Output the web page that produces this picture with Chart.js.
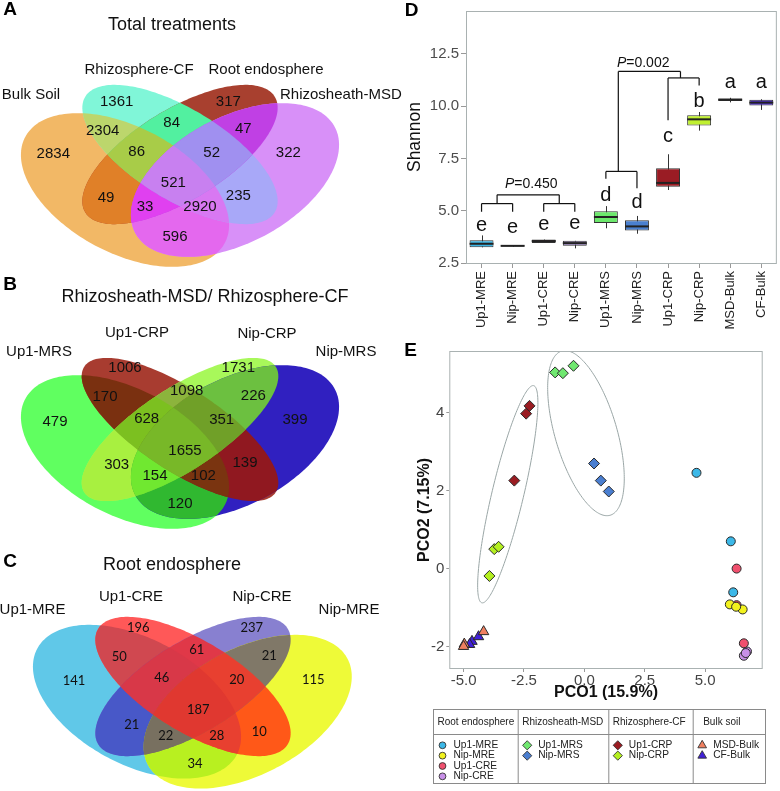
<!DOCTYPE html>
<html><head><meta charset="utf-8">
<script src="https://cdn.jsdelivr.net/npm/chart.js@4.4.1/dist/chart.umd.min.js"></script>
<style>
html,body{margin:0;padding:0;background:#fff;}
#wrap{position:relative;width:780px;height:791px;overflow:hidden;background:#fff;}
canvas{position:absolute;}
</style></head><body><div id="wrap">
<canvas id="cA" width="420" height="270" style="left:0;top:0"></canvas>
<canvas id="cB" width="420" height="273" style="left:0;top:262px"></canvas>
<canvas id="cC" width="420" height="269" style="left:0;top:522px"></canvas>
<canvas id="cD" width="390" height="340" style="left:390px;top:0"></canvas>
<canvas id="cE" width="390" height="451" style="left:390px;top:340px"></canvas>
</div>
<script>
// ---------------- DATA ----------------
// Venn region keys (set membership), shared by the three diagrams
const vennRegions = ['1','2','3','4','12','13','14','23','24','34','123','124','134','234','1234'];
const setsA = ['Bulk Soil','Rhizosphere-CF','Root endosphere','Rhizosheath-MSD'];
const countsA = [2834,1361,317,322,2304,49,596,84,235,47,86,2920,33,52,521];
const setsB = ['Up1-MRS','Up1-CRP','Nip-CRP','Nip-MRS'];
const countsB = [479,1006,1731,399,170,303,120,1098,139,226,628,102,154,351,1655];
const setsC = ['Up1-MRE','Up1-CRE','Nip-CRE','Nip-MRE'];
const countsC = [141,196,237,115,50,21,34,61,10,21,46,28,22,20,187];

// Shannon box plot
const groups = ['Up1-MRE','Nip-MRE','Up1-CRE','Nip-CRE','Up1-MRS','Nip-MRS','Up1-CRP','Nip-CRP','MSD-Bulk','CF-Bulk'];
const shMin = [3.25,3.28,3.46,3.20,4.16,3.90,5.99,8.83,10.18,9.82];
const shQ1  = [3.25,3.29,3.46,3.32,4.41,4.05,6.15,9.08,10.25,10.03];
const shMed = [3.42,3.32,3.55,3.45,4.70,4.25,6.33,9.37,10.31,10.17];
const shQ3  = [3.59,3.35,3.62,3.56,4.98,4.55,7.03,9.56,10.37,10.31];
const shMax = [3.82,3.36,3.62,3.56,5.22,4.75,7.70,9.72,10.40,10.33];
const shLetters = ['e','e','e','e','d','d','c','b','a','a'];
const shLetterY = [4.05,3.93,4.08,4.11,5.48,5.11,8.27,9.98,10.85,10.85];
const shYTicks = [2.5,5,7.5,10,12.5];

// PCoA
const pcoGroups = ['Up1-MRE','Nip-MRE','Up1-CRE','Nip-CRE','Up1-MRS','Nip-MRS','Up1-CRP','Nip-CRP','MSD-Bulk','CF-Bulk'];
const pco1 = [
  [4.64,6.06,6.16],
  [6.02,6.55,6.28],
  [6.30,6.30,6.60],
  [6.73,6.60,6.68],
  [-1.21,-0.89,-0.45],
  [0.40,0.68,1.01],
  [-2.27,-2.41,-2.90],
  [-3.73,-3.55,-3.93],
  [-4.17,-4.97,-5.00],
  [-4.65,-4.38,-4.75]
];
const pco2 = [
  [2.46,0.70,-0.61],
  [-0.92,-1.05,-0.98],
  [0.00,-0.94,-1.92],
  [-2.13,-2.24,-2.17],
  [5.04,5.02,5.21],
  [2.70,2.26,1.98],
  [4.18,3.98,2.26],
  [0.50,0.56,-0.19],
  [-1.62,-1.94,-2.00],
  [-1.87,-1.75,-1.95]
];
const pcoXTicks = [-5,-2.5,0,2.5,5];
const pcoYTicks = [-2,0,2,4];

// ---------------- STYLE ----------------
const FONT = "'Liberation Sans', Arial, Helvetica, sans-serif";
Chart.defaults.font.family = FONT;
Chart.defaults.color = '#222';

function ellipsePath(e, xs, ys) {
  const p = new Path2D();
  const phi = e.angle * Math.PI / 180;
  const ky = e.ky || 1;
  for (let i = 0; i <= 200; i++) {
    const t = i / 200 * 2 * Math.PI;
    const lx = e.a * Math.cos(t), ly = e.b * Math.sin(t);
    const dx = lx * Math.cos(phi) - ly * Math.sin(phi);
    const dy = (lx * Math.sin(phi) + ly * Math.cos(phi)) * ky;
    const px = xs.getPixelForValue(e.cx + dx), py = ys.getPixelForValue(e.cy + dy);
    if (i) p.lineTo(px, py); else p.moveTo(px, py);
  }
  p.closePath();
  return p;
}

function makeVenn(canvasId, cfg) {
  const plugin = {
    id: 'venn' + cfg.key,
    afterDraw(chart) {
      const {ctx, scales: {x, y}} = chart;
      const paths = cfg.ellipses.map(e => ellipsePath(e, x, y));
      const order = vennRegions.map((r, i) => i).sort((a, b) => vennRegions[a].length - vennRegions[b].length);
      order.forEach(i => {
        ctx.save();
        for (const ch of vennRegions[i]) ctx.clip(paths[+ch - 1]);
        ctx.fillStyle = cfg.colors[i];
        ctx.fillRect(0, 0, chart.width, chart.height);
        ctx.restore();
      });
      ctx.save();
      ctx.fillStyle = '#111';
      ctx.textAlign = 'center';
      ctx.textBaseline = 'middle';
      ctx.font = cfg.numFont;
      cfg.counts.forEach((c, i) => {
        ctx.fillText(String(c), x.getPixelForValue(cfg.numPos[i][0]), y.getPixelForValue(cfg.numPos[i][1]));
      });
      ctx.font = "15px " + FONT;
      cfg.sets.forEach((s, i) => {
        const lp = cfg.setPos[i];
        ctx.textAlign = lp[2] || 'center';
        ctx.fillText(s, x.getPixelForValue(lp[0]), y.getPixelForValue(lp[1]));
      });
      ctx.textAlign = 'center';
      ctx.font = "18px " + FONT;
      ctx.fillText(cfg.title, x.getPixelForValue(cfg.titlePos[0]), y.getPixelForValue(cfg.titlePos[1]));
      ctx.font = "bold 19px " + FONT;
      ctx.fillStyle = '#000';
      ctx.fillText(cfg.key, x.getPixelForValue(cfg.letterPos[0]), y.getPixelForValue(cfg.letterPos[1]));
      ctx.restore();
    }
  };
  const cv = document.getElementById(canvasId);
  new Chart(cv, {
    type: 'scatter',
    data: {datasets: []},
    options: {
      responsive: false, animation: false, events: [],
      layout: {padding: 0},
      plugins: {legend: {display: false}, tooltip: {enabled: false}},
      scales: {
        x: {type: 'linear', display: false, min: 0, max: cv.width},
        y: {type: 'linear', display: false, min: cfg.top, max: cfg.top + cv.height, reverse: true}
      }
    },
    plugins: [plugin]
  });
}

const outerA = 113, outerB = 63, outerAng = 28, innerA = 111, innerB = 45.5, innerAng = 31.4;

makeVenn('cA', {
  key: 'A', top: 0, sets: setsA, counts: countsA,
  title: 'Total treatments', titlePos: [172, 25], letterPos: [10, 10],
  numFont: "15px " + FONT,
  setPos: [[31, 95], [139, 70], [266, 70], [280, 95, 'left']],
  ellipses: [
    {cx: 125, cy: 190, a: outerA, b: outerB, angle: outerAng},
    {cx: 180, cy: 154.5, a: innerA, b: innerB, angle: innerAng},
    {cx: 180, cy: 154.5, a: innerA, b: innerB, angle: -innerAng},
    {cx: 235, cy: 180, a: outerA, b: outerB, angle: -outerAng}
  ],
  colors: ['#f2b866','#80f6d8','#a8402f','#d890f8','#bcd66c','#e08028','#e468ee','#52f0a0','#a8a8f8','#c040e4','#a8cc48','#d878f2','#e040f0','#a090f0','#c880f0'],
  numPos: [[53.3,154],[116.7,101.7],[228.3,101.7],[288.3,152.7],[102.7,130.7],[106,198.3],[175,236.7],[171.7,123.3],[238.3,196],[243.3,129.3],[136.7,151.7],[200,207.3],[145,207.3],[211.7,152.7],[173.3,183.3]]
});

makeVenn('cB', {
  key: 'B', top: 262, sets: setsB, counts: countsB,
  title: 'Rhizosheath-MSD/ Rhizosphere-CF', titlePos: [205, 297], letterPos: [10, 285],
  numFont: "15px " + FONT,
  setPos: [[39, 352], [137, 333], [267, 334], [346, 352]],
  ellipses: [
    {cx: 125, cy: 452, a: outerA, b: outerB, angle: outerAng},
    {cx: 180, cy: 429.5, a: 114.5, b: 41, angle: 33.3},
    {cx: 180, cy: 429.5, a: 114.5, b: 41, angle: -33.3},
    {cx: 235, cy: 442, a: outerA, b: outerB, angle: -outerAng}
  ],
  colors: ['#60ff60','#a83c30','#a8f85a','#3020c0','#7a3010','#a8f040','#30b830','#8cb43c','#901820','#6cc040','#7cc020','#7a3410','#70e830','#70a028','#78b828'],
  numPos: [[55,421.7],[125,368.3],[238.3,368.3],[295,420],[105,397.3],[116.7,465],[180,504.3],[186.7,390.7],[245,462.7],[253.3,396],[146.7,419.3],[203.3,476],[155,476],[221.7,420],[185,450.7]]
});

makeVenn('cC', {
  key: 'C', top: 522, sets: setsC, counts: countsC,
  title: 'Root endosphere', titlePos: [172, 565], letterPos: [10, 562],
  numFont: "13px Lato, " + FONT,
  setPos: [[32.5, 610], [131, 597], [262, 597], [349, 610]],
  ellipses: [
    {cx: 137, cy: 701.7, a: outerA, b: outerB, angle: outerAng},
    {cx: 193, cy: 686.5, a: innerA, b: innerB, angle: innerAng},
    {cx: 193, cy: 686.5, a: innerA, b: innerB, angle: -innerAng},
    {cx: 247.7, cy: 711.7, a: outerA, b: outerB, angle: -outerAng}
  ],
  colors: ['#60c8e8','#ff5858','#8880d0','#eefa38','#d04850','#4858c8','#b8f020','#e03848','#ff5818','#807868','#d83848','#e84030','#787060','#e84030','#e03830'],
  numPos: [[74,680.7],[138.3,628.3],[251.7,628.3],[313.3,680],[119.3,657.3],[131.7,725],[195,764],[196.7,650],[259.3,731.7],[269.3,656],[161.7,678.3],[216.7,736],[165.7,736],[236.7,680],[198.3,710]]
});

// ---------------- D: box plot ----------------
const boxColors = ['#3cb4e4','#f0f030','#f05070','#9a80c0','#6ce86c','#4a80d0','#9a1c24','#c0f030','#f08060','#5030d8'];
// bracket segments: [x1, y1, x2, y2] in (category index, Shannon) units
const brackets = [
  [0,4.95,0,5.34],[0,5.34,1,5.34],[1,5.34,1,4.95],
  [2,4.95,2,5.34],[2,5.34,3,5.34],[3,5.34,3,4.95],
  [0.5,5.34,0.5,5.76],[2.5,5.34,2.5,5.76],[0.5,5.76,2.5,5.76],
  [4,6.53,4,6.88],[4,6.88,5,6.88],[5,6.88,5,6.07],
  [6,9.33,6,11.35],[6,11.35,7,11.35],[7,11.35,7,10.99],
  [4.4,6.88,4.4,11.66],[6.4,11.35,6.4,11.66],[4.4,11.66,6.4,11.66]
];
const pLabels = [{x:1.6, y:6.1, v:'0.450'}, {x:5.2, y:11.89, v:'0.002'}];

const boxPlugin = {
  id: 'boxExtras',
  beforeDatasetsDraw(chart) {
    const {ctx, scales: {x, y}} = chart;
    ctx.save();
    ctx.strokeStyle = '#333'; ctx.lineWidth = 1;
    groups.forEach((g, i) => {
      const px = Math.round(x.getPixelForValue(i)) + 0.5;
      ctx.beginPath();
      ctx.moveTo(px, y.getPixelForValue(shMin[i]));
      ctx.lineTo(px, y.getPixelForValue(shMax[i]));
      ctx.stroke();
    });
    ctx.restore();
  },
  afterDatasetsDraw(chart) {
    const {ctx, scales: {x, y}} = chart;
    const meta = chart.getDatasetMeta(0);
    ctx.save();
    ctx.strokeStyle = '#222'; ctx.lineWidth = 2;
    groups.forEach((g, i) => {
      const w = meta.data[i].width;
      const px = x.getPixelForValue(i), py = y.getPixelForValue(shMed[i]);
      ctx.beginPath(); ctx.moveTo(px - w / 2, py); ctx.lineTo(px + w / 2, py); ctx.stroke();
    });
    ctx.restore();
  },
  afterDraw(chart) {
    const {ctx, chartArea: a, scales: {x, y}} = chart;
    ctx.save();
    ctx.strokeStyle = '#a9b1b1'; ctx.lineWidth = 1;
    ctx.strokeRect(a.left + 0.5, a.top + 0.5, a.right - a.left - 1, a.bottom - a.top);
    ctx.strokeStyle = '#111'; ctx.lineWidth = 1.2;
    brackets.forEach(s => {
      ctx.beginPath();
      ctx.moveTo(x.getPixelForValue(s[0]), y.getPixelForValue(s[1]));
      ctx.lineTo(x.getPixelForValue(s[2]), y.getPixelForValue(s[3]));
      ctx.stroke();
    });
    ctx.fillStyle = '#111';
    ctx.textAlign = 'center'; ctx.textBaseline = 'alphabetic';
    ctx.font = "20px " + FONT;
    shLetters.forEach((l, i) => ctx.fillText(l, x.getPixelForValue(i), y.getPixelForValue(shLetterY[i])));
    pLabels.forEach(p => {
      ctx.font = "italic 14px " + FONT;
      const w1 = ctx.measureText('P').width;
      ctx.font = "14px " + FONT;
      const w2 = ctx.measureText('=' + p.v).width;
      const cx = x.getPixelForValue(p.x), cy = y.getPixelForValue(p.y);
      const left = cx - (w1 + w2) / 2;
      ctx.textAlign = 'left';
      ctx.font = "italic 14px " + FONT;
      ctx.fillText('P', left, cy);
      ctx.font = "14px " + FONT;
      ctx.fillText('=' + p.v, left + w1, cy);
    });
    ctx.textAlign = 'center'; ctx.textBaseline = 'middle';
    ctx.font = "bold 19px " + FONT; ctx.fillStyle = '#000';
    ctx.fillText('D', 21.5, 10.5);
    ctx.restore();
  }
};

new Chart(document.getElementById('cD'), {
  type: 'bar',
  data: {
    labels: groups,
    datasets: [{
      data: groups.map((g, i) => [shQ1[i], shQ3[i]]),
      backgroundColor: boxColors, borderColor: '#333', borderWidth: 1, borderSkipped: false,
      barPercentage: 0.77, categoryPercentage: 1
    }]
  },
  options: {
    responsive: false, animation: false, events: [],
    layout: {padding: {top: 4, right: 2, left: 0, bottom: 0}},
    plugins: {legend: {display: false}, tooltip: {enabled: false}},
    scales: {
      x: {
        grid: {display: true, drawOnChartArea: false, offset: false, tickLength: 5, color: '#999'},
        border: {display: false},
        ticks: {autoSkip: false, maxRotation: 90, minRotation: 90, font: {size: 13}, color: '#222', padding: 3},
        afterFit(s) { s.height = 77; }
      },
      y: {
        min: 2.5, max: 14.55,
        afterBuildTicks(s) { s.ticks = shYTicks.map(v => ({value: v})); },
        ticks: {callback: v => Number(v).toFixed(1), font: {size: 15}, color: '#4d4d4d', padding: 2},
        grid: {drawOnChartArea: false, tickLength: 5, color: '#999'},
        border: {display: false},
        title: {display: true, text: 'Shannon', font: {size: 17.5}, color: '#111', padding: {top: 14.5, bottom: 0}},
        afterFit(s) { s.width = 76; }
      }
    }
  },
  plugins: [boxPlugin]
});

// ---------------- E: PCoA ----------------
const pcoColors = ['#3cb8e8','#f2f21e','#f0506e','#c890e8','#70e870','#4a7ed0','#9a1c22','#b4f020','#f08060','#4020d8'];
const pcoStyles = ['circle','circle','circle','circle','rectRot','rectRot','rectRot','rectRot','triangle','triangle'];
const pcoRadius = [4.5,4.5,4.5,4.5,5.5,5.5,5.5,5.5,6,6];
const legendCols = [
  {title: 'Root endosphere', items: [0,1,2,3]},
  {title: 'Rhizosheath-MSD', items: [4,5]},
  {title: 'Rhizosphere-CF', items: [6,7]},
  {title: 'Bulk soil', items: [8,9]}
];
// confidence ellipses: centre and two half-axis vectors in data units
const pcoEllipses = [
  {c: [-3.17, 1.91], A: [1.07, 2.79], B: [0.64, -0.09]},
  {c: [0.066, 3.48], A: [1.0, -2.11], B: [1.23, 0.22]}
];

const pcoPlugin = {
  id: 'pcoExtras',
  beforeDatasetsDraw(chart) {
    const {ctx, chartArea: a, scales: {x, y}} = chart;
    ctx.save();
    ctx.beginPath(); ctx.rect(a.left, a.top, a.right - a.left, a.bottom - a.top); ctx.clip();
    ctx.strokeStyle = '#9aa6a6'; ctx.lineWidth = 1;
    pcoEllipses.forEach(e => {
      ctx.beginPath();
      for (let i = 0; i <= 200; i++) {
        const t = i / 200 * 2 * Math.PI;
        const vx = e.c[0] + e.A[0] * Math.cos(t) + e.B[0] * Math.sin(t);
        const vy = e.c[1] + e.A[1] * Math.cos(t) + e.B[1] * Math.sin(t);
        const px = x.getPixelForValue(vx), py = y.getPixelForValue(vy);
        if (i) ctx.lineTo(px, py); else ctx.moveTo(px, py);
      }
      ctx.closePath(); ctx.stroke();
    });
    ctx.restore();
  },
  afterDraw(chart) {
    const {ctx, chartArea: a} = chart;
    ctx.save();
    ctx.strokeStyle = '#aab2b2'; ctx.lineWidth = 1;
    ctx.strokeRect(a.left + 0.5, a.top + 0.5, a.right - a.left - 1, a.bottom - a.top - 1);
    // legend table
    const colX = [43, 127.7, 218.3, 302.7, 375];
    const top = 369, mid = 394, bot = 443;
    ctx.strokeStyle = '#8a8a8a';
    ctx.strokeRect(colX[0] + 0.5, top + 0.5, colX[4] - colX[0], bot - top);
    ctx.beginPath();
    ctx.moveTo(colX[0], mid + 0.5); ctx.lineTo(colX[4], mid + 0.5);
    for (let i = 1; i < 4; i++) { ctx.moveTo(colX[i] + 0.5, top); ctx.lineTo(colX[i] + 0.5, bot); }
    ctx.stroke();
    ctx.fillStyle = '#222'; ctx.textBaseline = 'middle'; ctx.textAlign = 'left';
    const ds = chart.data.datasets;
    legendCols.forEach((col, ci) => {
      ctx.font = "10px " + FONT;
      ctx.fillStyle = '#222';
      ctx.fillText(col.title, colX[ci] + (ci === 3 ? 10.5 : 4.5), 382.3);
      col.items.forEach((di, r) => {
        const yy = 405.3 + r * 10.35;
        const mx = colX[ci] + 9.5;
        const d = ds[di];
        ctx.save();
        ctx.fillStyle = d.backgroundColor; ctx.strokeStyle = '#333'; ctx.lineWidth = 0.9;
        Chart.helpers.drawPoint(ctx, {pointStyle: d.pointStyle, radius: d.pointStyle === 'circle' ? 3.4 : (d.pointStyle === 'triangle' ? 5 : 4.6), borderWidth: 0.9, rotation: 0}, mx, yy);
        ctx.restore();
        ctx.fillStyle = '#222';
        ctx.font = "10.2px " + FONT;
        ctx.fillText(d.label, colX[ci] + 20.5, yy);
      });
    });
    ctx.textAlign = 'center';
    ctx.font = "bold 19px " + FONT; ctx.fillStyle = '#000';
    ctx.fillText('E', 20.5, 11);
    ctx.restore();
  }
};

new Chart(document.getElementById('cE'), {
  type: 'scatter',
  data: {
    datasets: pcoGroups.map((g, i) => ({
      label: g,
      data: pco1[i].map((v, j) => ({x: v, y: pco2[i][j]})),
      pointStyle: pcoStyles[i], pointRadius: pcoRadius[i],
      backgroundColor: pcoColors[i], borderColor: '#2a2a2a', borderWidth: 1
    }))
  },
  options: {
    responsive: false, animation: false, events: [],
    layout: {padding: {top: 6.7, right: 17.3, left: 0, bottom: 82}},
    plugins: {legend: {display: false}, tooltip: {enabled: false}},
    scales: {
      x: {
        type: 'linear', min: -5.59, max: 7.38,
        afterBuildTicks(s) { s.ticks = pcoXTicks.map(v => ({value: v})); },
        ticks: {callback: v => Number(v).toFixed(1), font: {size: 15}, color: '#444', padding: 0},
        grid: {drawOnChartArea: false, tickLength: 3, color: '#999'},
        border: {display: false},
        title: {display: true, text: 'PCO1 (15.9%)', font: {size: 16, weight: 'bold'}, color: '#111', padding: {top: 0, bottom: 6.4}},
        afterFit(s) { s.height = 40; }
      },
      y: {
        type: 'linear', min: -2.58, max: 5.59,
        afterBuildTicks(s) { s.ticks = pcoYTicks.map(v => ({value: v})); },
        ticks: {callback: v => String(v), font: {size: 15}, color: '#444', padding: 2},
        grid: {drawOnChartArea: false, tickLength: 3, color: '#999'},
        border: {display: false},
        title: {display: true, text: 'PCO2 (7.15%)', font: {size: 16, weight: 'bold'}, color: '#111', padding: {top: 25.4, bottom: 0}},
        afterFit(s) { s.width = 59.3; }
      }
    }
  },
  plugins: [pcoPlugin]
});
</script>
</body></html>
